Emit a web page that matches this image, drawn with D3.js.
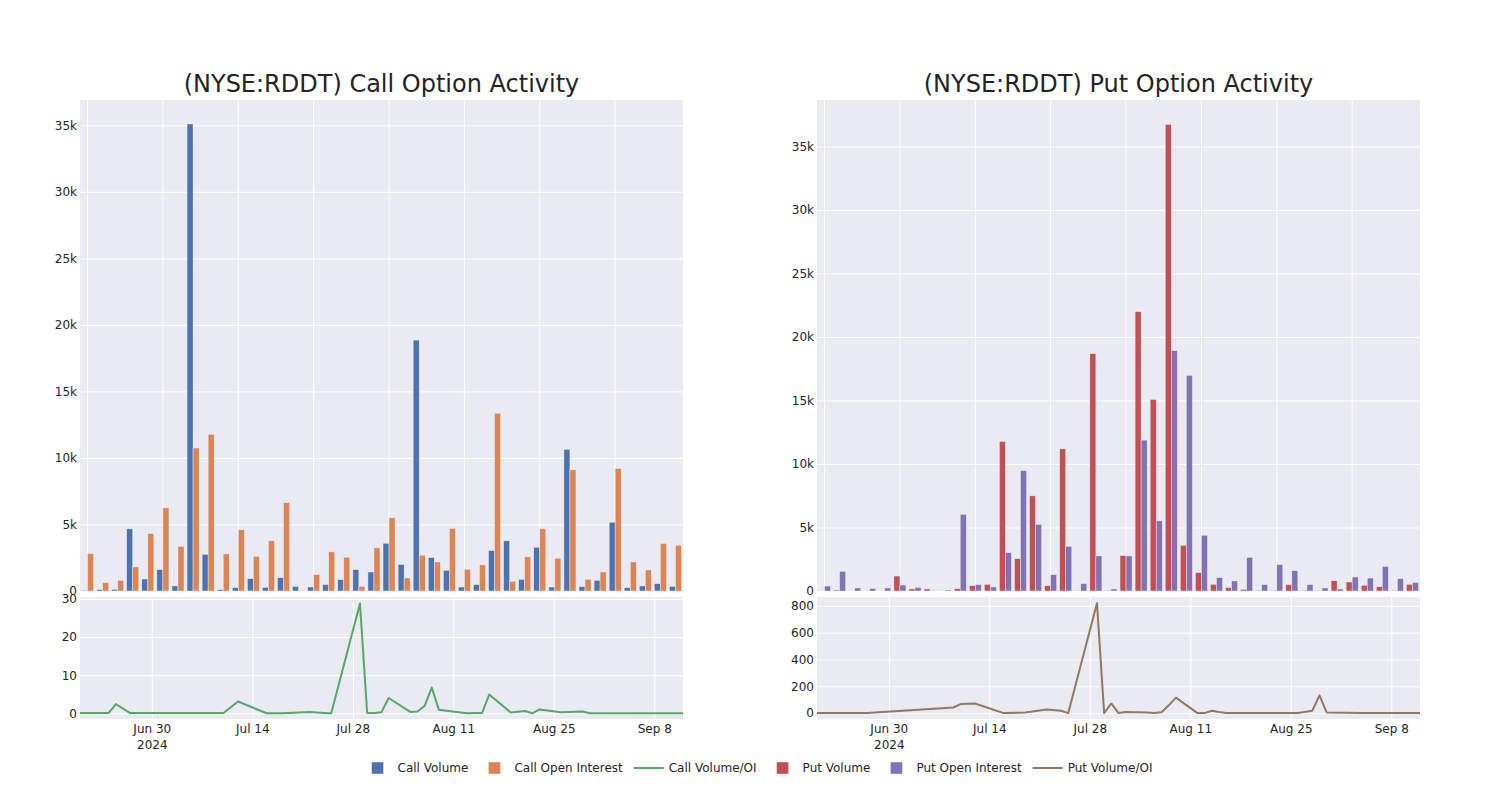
<!DOCTYPE html>
<html>
<head>
<meta charset="utf-8">
<script src="https://cdn.jsdelivr.net/npm/d3@7"></script>
<style>
  body { margin: 0; background: #fff; }
  text { font-family: "DejaVu Sans", sans-serif; }
</style>
</head>
<body>
<div id="chart"></div>
<script>

// Trading days shown (one bar group / line point each)
const dates = ["2024-06-20","2024-06-21","2024-06-24","2024-06-25","2024-06-27","2024-07-09","2024-07-10","2024-07-12",
  "2024-07-16","2024-07-18","2024-07-19","2024-07-22","2024-07-24","2024-07-25","2024-07-29","2024-07-30","2024-07-31",
  "2024-08-01","2024-08-02","2024-08-05","2024-08-06","2024-08-07","2024-08-08","2024-08-09","2024-08-12","2024-08-13",
  "2024-08-14","2024-08-15","2024-08-16","2024-08-19","2024-08-21","2024-08-22","2024-08-23","2024-08-26","2024-08-28",
  "2024-08-29","2024-08-30","2024-09-04","2024-09-09","2024-09-12"];

const callVolume = [50, 100, 120, 4670, 900, 1610, 380, 35100, 2760, 100, 250, 930, 280, 1000, 350, 300, 480, 850, 1610, 1430,
  3590, 2000, 18860, 2510, 1560, 300, 480, 3040, 3770, 880, 3290, 300, 10650, 330, 800, 5170, 250, 380, 550, 350];
const callOI = [2810, 630, 800, 1810, 4320, 6250, 3360, 10750, 11780, 2790, 4600, 2610, 3770, 6630, 12, 1230, 2940, 2540, 350, 3240,
  5500, 980, 2690, 2180, 4700, 1630, 1960, 13360, 730, 2560, 4670, 2460, 9110, 880, 1430, 9210, 2180, 1580, 3570, 3440];
const callRatio = [0.05, 0.1, 0.1, 2.4, 0.05, 0.05, 0.05, 3.1, 0, 0, 0.1, 0.35, 0.1, 0, 28.8, 0.1, 0.1, 0.3, 4.0, 0.35,
  0.45, 1.9, 6.75, 0.9, 0.2, 0, 0.05, 0.05, 4.9, 0.2, 0.6, 0, 1.0, 0.3, 0.4, 0.45, 0, 0, 0, 0];

const putVolume = [0, 80, 0, 0, 0, 1180, 160, 160, 0, 180, 420, 530, 11770, 2550, 7490, 420, 11190, 30, 18680, 50,
  2790, 21990, 15080, 36730, 3600, 1450, 530, 260, 130, 50, 50, 500, 50, 50, 810, 710, 450, 340, 50, 530];
const putOI = [390, 1550, 240, 200, 240, 470, 290, 30, 80, 6040, 500, 320, 3020, 9490, 5250, 1290, 3520, 580, 2760, 160,
  2760, 11880, 5520, 18920, 16970, 4390, 1050, 790, 2650, 500, 2080, 1600, 500, 240, 160, 1100, 1020, 1940, 970, 680];
const putRatio = [0, 0, 0, 0, 0, 42, 67, 72, 0, 3, 5, 27, 17, 0, 820, 0, 72, 0, 8, 5,
  0, 7, 58, 115, 0, 0, 18, 8, 0, 0, 0, 0, 0, 0, 18, 132, 5, 0, 0, 0];

// tick labels
const barTicks = [0, 5000, 10000, 15000, 20000, 25000, 30000, 35000];
const callRatioTicks = [0, 10, 20, 30];
const putRatioTicks = [0, 200, 400, 600, 800];
const dateTicks = ["2024-06-30", "2024-07-14", "2024-07-28", "2024-08-11", "2024-08-25", "2024-09-08"];
const legendNames = ["Call Volume", "Call Open Interest", "Call Volume/OI", "Put Volume", "Put Open Interest", "Put Volume/OI"];


// Layout
const width = 1500;
const height = 800;
const barTop = 100, barBottom = 591;
const lineTop = 597, lineBottom = 719;
const textColor = "rgb(36,36,36)";
const plotBg = "rgb(234,234,242)";

const parseDate = d3.utcParse("%Y-%m-%d");
const dateValues = dates.map(parseDate);

const svg = d3.select("#chart")
  .append("svg")
  .attr("width", width)
  .attr("height", height);

const panels = [
  {left: 80, right: 683, title: "(NYSE:RDDT) Call Option Activity",
   volume: callVolume, oi: callOI, ratio: callRatio, barMax: 36900,
   ratioDomain: [-1.5, 30.5], ratioTicks: callRatioTicks,
   colors: ["#4C72B0", "#DD8452", "#55A868"]},
  {left: 817, right: 1420, title: "(NYSE:RDDT) Put Option Activity",
   volume: putVolume, oi: putOI, ratio: putRatio, barMax: 38650,
   ratioDomain: [-44, 866], ratioTicks: putRatioTicks,
   colors: ["#C44E52", "#8172B3", "#937860"]}
];

// shared look of the axes: white grid lines, no domain line
function styleAxis(sel) {
  sel.attr("font-family", "DejaVu Sans").attr("font-size", 12);
  sel.select(".domain").remove();
  sel.selectAll(".tick line").attr("stroke", "#fff").attr("stroke-width", 1);
  sel.selectAll(".tick text").attr("fill", textColor);
}

function drawPanel(p) {
  const g = svg.append("g");
  const w = p.right - p.left;

  /* top: grouped bars */
  g.append("rect")
    .attr("x", p.left).attr("y", barTop)
    .attr("width", w).attr("height", barBottom - barTop)
    .attr("fill", plotBg);

  const xBand = d3.scaleBand()
    .domain(d3.range(dates.length))
    .range([p.left, p.right])
    .paddingInner(0.2)
    .paddingOuter(0.1);
  const xSub = d3.scaleBand().domain([0, 1]).range([0, xBand.bandwidth()]);
  const yBar = d3.scaleLinear().domain([0, p.barMax]).range([barBottom, barTop]);

  g.append("g")
    .attr("transform", `translate(0,${barBottom})`)
    .call(d3.axisBottom(xBand)
      .tickValues(d3.range(0, dates.length, 5))
      .tickSize(-(barBottom - barTop))
      .tickFormat(""))
    .call(styleAxis);

  g.append("g")
    .attr("transform", `translate(${p.left},0)`)
    .call(d3.axisLeft(yBar)
      .tickValues(barTicks)
      .tickSize(-w)
      .tickPadding(3)
      .tickFormat(d => d === 0 ? "0" : d / 1000 + "k"))
    .call(styleAxis);

  [p.volume, p.oi].forEach((series, k) => {
    g.append("g").selectAll("rect")
      .data(series)
      .join("rect")
        .attr("x", (d, i) => xBand(i) + xSub(k))
        .attr("y", d => yBar(d))
        .attr("width", xSub.bandwidth())
        .attr("height", d => barBottom - yBar(d))
        .attr("fill", p.colors[k])
        .attr("stroke", plotBg)
        .attr("stroke-width", 0.5);
  });

  /* bottom: volume / OI line */
  g.append("rect")
    .attr("x", p.left).attr("y", lineTop)
    .attr("width", w).attr("height", lineBottom - lineTop)
    .attr("fill", plotBg);

  const xTime = d3.scaleUtc().domain(d3.extent(dateValues)).range([p.left, p.right]);
  const yRatio = d3.scaleLinear().domain(p.ratioDomain).range([lineBottom, lineTop]);

  const xAxis = g.append("g")
    .attr("transform", `translate(0,${lineBottom})`)
    .call(d3.axisBottom(xTime)
      .tickValues(dateTicks.map(parseDate))
      .tickSize(-(lineBottom - lineTop))
      .tickPadding(5)
      .tickFormat(d3.utcFormat("%b %-d")))
    .call(styleAxis);

  // year under the first date label
  xAxis.select(".tick").append("text")
    .attr("fill", textColor)
    .attr("y", 21)
    .attr("dy", "0.71em")
    .text("2024");

  g.append("g")
    .attr("transform", `translate(${p.left},0)`)
    .call(d3.axisLeft(yRatio)
      .tickValues(p.ratioTicks)
      .tickSize(-w)
      .tickPadding(3))
    .call(styleAxis);

  const line = d3.line()
    .x((d, i) => xTime(dateValues[i]))
    .y(d => yRatio(d));

  g.append("path")
    .datum(p.ratio)
    .attr("d", line)
    .attr("fill", "none")
    .attr("stroke", p.colors[2])
    .attr("stroke-width", 2)
    .attr("stroke-linejoin", "round");

  /* title */
  svg.append("text")
    .attr("x", (p.left + p.right) / 2)
    .attr("y", 92)
    .attr("text-anchor", "middle")
    .attr("font-size", 24)
    .attr("fill", textColor)
    .text(p.title);
}

panels.forEach(drawPanel);

/* legend, one row under both panels */
const legendColors = panels.flatMap(p => p.colors);
const legend = svg.append("g");
let lx = 0;
legendNames.forEach((name, i) => {
  const item = legend.append("g").attr("transform", `translate(${lx},768)`);
  if (i % 3 === 2) {
    item.append("line")
      .attr("x1", 5).attr("x2", 35)
      .attr("stroke", legendColors[i])
      .attr("stroke-width", 2);
  } else {
    item.append("rect")
      .attr("x", 14).attr("y", -6)
      .attr("width", 12).attr("height", 12)
      .attr("fill", legendColors[i])
      .attr("stroke", plotBg)
      .attr("stroke-width", 0.5);
  }
  const t = item.append("text")
    .attr("x", 40)
    .attr("dy", "0.35em")
    .attr("font-size", 12)
    .attr("fill", textColor)
    .text(name);
  lx += 40 + t.node().getComputedTextLength() + 6;
});
legend.attr("transform", `translate(${755 - (lx - 6) / 2},0)`);

</script>
</body>
</html>
